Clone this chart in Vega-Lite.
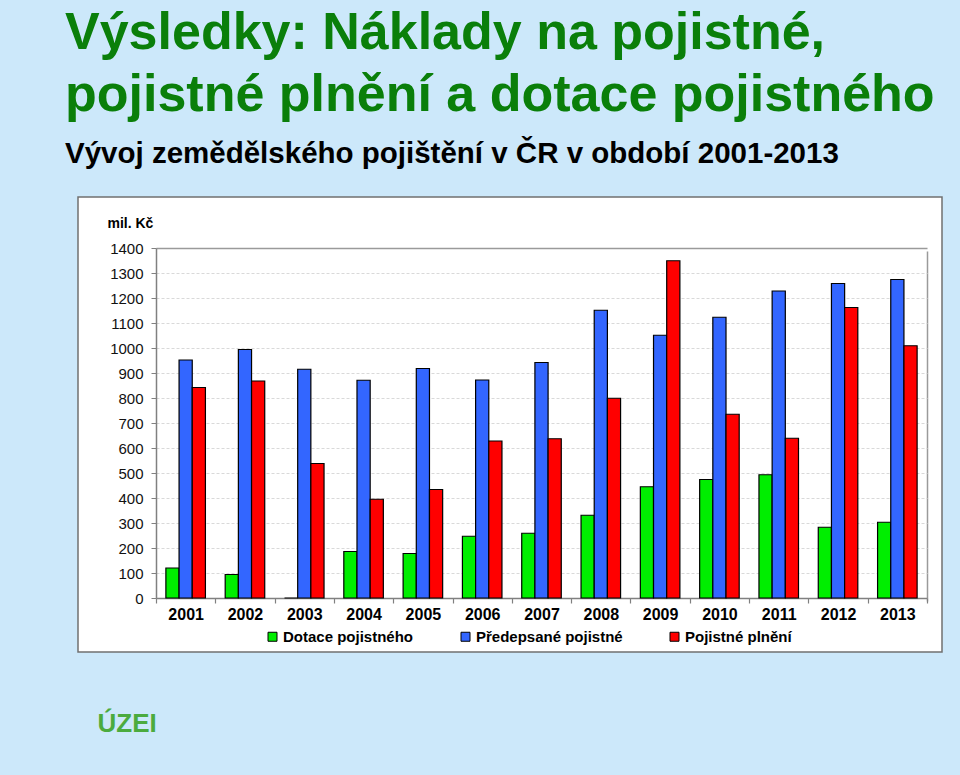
{
  "$schema": "https://vega.github.io/schema/vega-lite/v6.json",
  "width": 864,
  "height": 455,
  "autosize": {"type": "none"},
  "padding": {"left": 78, "top": 197, "right": 18, "bottom": 123},
  "background": "#cce8fa",
  "title": {
    "text": ["Výsledky: Náklady na pojistné,", "pojistné plnění a dotace pojistného"],
    "subtitle": "Vývoj zemědělského pojištění v ČR v období 2001-2013",
    "anchor": "start",
    "frame": "group",
    "dx": -13,
    "offset": 28,
    "font": "Liberation Sans",
    "fontSize": 52,
    "fontWeight": "bold",
    "color": "#0a7f0a",
    "lineHeight": 62,
    "subtitleFont": "Liberation Sans",
    "subtitleFontSize": 29.5,
    "subtitleFontWeight": "bold",
    "subtitleColor": "#000000",
    "subtitlePadding": 18
  },
  "data": {
    "values": [
      {"year": "2001", "series": "Dotace pojistného", "value": 120},
      {"year": "2001", "series": "Předepsané pojistné", "value": 952},
      {"year": "2001", "series": "Pojistné plnění", "value": 842},
      {"year": "2002", "series": "Dotace pojistného", "value": 94},
      {"year": "2002", "series": "Předepsané pojistné", "value": 994},
      {"year": "2002", "series": "Pojistné plnění", "value": 868},
      {"year": "2003", "series": "Dotace pojistného", "value": 0},
      {"year": "2003", "series": "Předepsané pojistné", "value": 915},
      {"year": "2003", "series": "Pojistné plnění", "value": 538},
      {"year": "2004", "series": "Dotace pojistného", "value": 186},
      {"year": "2004", "series": "Předepsané pojistné", "value": 871},
      {"year": "2004", "series": "Pojistné plnění", "value": 395},
      {"year": "2005", "series": "Dotace pojistného", "value": 178},
      {"year": "2005", "series": "Předepsané pojistné", "value": 918},
      {"year": "2005", "series": "Pojistné plnění", "value": 434},
      {"year": "2006", "series": "Dotace pojistného", "value": 247},
      {"year": "2006", "series": "Předepsané pojistné", "value": 872},
      {"year": "2006", "series": "Pojistné plnění", "value": 628},
      {"year": "2007", "series": "Dotace pojistného", "value": 259},
      {"year": "2007", "series": "Předepsané pojistné", "value": 942},
      {"year": "2007", "series": "Pojistné plnění", "value": 637},
      {"year": "2008", "series": "Dotace pojistného", "value": 331},
      {"year": "2008", "series": "Předepsané pojistné", "value": 1151},
      {"year": "2008", "series": "Pojistné plnění", "value": 799},
      {"year": "2009", "series": "Dotace pojistného", "value": 445},
      {"year": "2009", "series": "Předepsané pojistné", "value": 1051},
      {"year": "2009", "series": "Pojistné plnění", "value": 1349},
      {"year": "2010", "series": "Dotace pojistného", "value": 474},
      {"year": "2010", "series": "Předepsané pojistné", "value": 1123},
      {"year": "2010", "series": "Pojistné plnění", "value": 735},
      {"year": "2011", "series": "Dotace pojistného", "value": 493},
      {"year": "2011", "series": "Předepsané pojistné", "value": 1228},
      {"year": "2011", "series": "Pojistné plnění", "value": 639},
      {"year": "2012", "series": "Dotace pojistného", "value": 283},
      {"year": "2012", "series": "Předepsané pojistné", "value": 1258},
      {"year": "2012", "series": "Pojistné plnění", "value": 1162},
      {"year": "2013", "series": "Dotace pojistného", "value": 303},
      {"year": "2013", "series": "Předepsané pojistné", "value": 1274},
      {"year": "2013", "series": "Pojistné plnění", "value": 1009}
    ]
  },
  "mark": {"type": "bar", "stroke": "#000000", "strokeWidth": 1.2},
  "encoding": {
    "x": {
      "field": "year",
      "type": "ordinal",
      "scale": {"range": [78, 849], "paddingInner": 0, "paddingOuter": 0},
      "axis": {
        "title": "ÚZEI",
        "titleX": 19,
        "titleY": 133,
        "titleAlign": "left",
        "titleBaseline": "alphabetic",
        "titleFont": "Liberation Sans",
        "titleFontSize": 26,
        "titleFontWeight": "bold",
        "titleColor": "#4bab3e",
        "offset": -54,
        "labelAngle": 0,
        "labelFont": "Liberation Sans",
        "labelFontSize": 16,
        "labelFontWeight": "bold",
        "labelColor": "#000000",
        "labelPadding": 3,
        "tickBand": "extent",
        "tickSize": 5,
        "tickColor": "#808080",
        "tickWidth": 1.2,
        "domainColor": "#808080",
        "domainWidth": 1.5,
        "grid": true,
        "gridColor": "#9a9a9a",
        "gridWidth": 1.5,
        "gridOpacity": {"condition": {"test": "datum.value == 2013", "value": 1}, "value": 0}
      }
    },
    "xOffset": {
      "field": "series",
      "type": "nominal",
      "sort": ["Dotace pojistného", "Předepsané pojistné", "Pojistné plnění"],
      "scale": {"paddingOuter": 0.75, "paddingInner": 0}
    },
    "y": {
      "field": "value",
      "type": "quantitative",
      "scale": {"domain": [0, 1400], "nice": false, "range": [401, 51]},
      "axis": {
        "title": "mil. Kč",
        "titleAngle": 0,
        "titleX": -49,
        "titleY": 26,
        "titleAlign": "left",
        "titleBaseline": "middle",
        "titleFont": "Liberation Sans",
        "titleFontSize": 14,
        "titleFontWeight": "bold",
        "titleColor": "#000000",
        "offset": -78,
        "format": "d",
        "values": [0, 100, 200, 300, 400, 500, 600, 700, 800, 900, 1000, 1100, 1200, 1300, 1400],
        "labelFont": "Liberation Sans",
        "labelFontSize": 15,
        "labelColor": "#111111",
        "labelPadding": 8,
        "tickSize": 5,
        "tickColor": "#808080",
        "domainColor": "#808080",
        "domainWidth": 1.5,
        "grid": true,
        "gridColor": {"condition": {"test": "datum.value == 1400", "value": "#9a9a9a"}, "value": "#d9d9d9"},
        "gridDash": {"condition": {"test": "datum.value == 1400", "value": []}, "value": [3, 2]},
        "gridWidth": {"condition": {"test": "datum.value == 1400", "value": 1.5}, "value": 1}
      }
    },
    "color": {
      "field": "series",
      "type": "nominal",
      "sort": ["Dotace pojistného", "Předepsané pojistné", "Pojistné plnění"],
      "scale": {
        "domain": ["Dotace pojistného", "Předepsané pojistné", "Pojistné plnění"],
        "range": ["#00ee00", "#3366ff", "#ff0000"]
      },
      "legend": {
        "title": null,
        "orient": "none",
        "legendX": 187,
        "legendY": 432,
        "direction": "horizontal",
        "symbolType": "square",
        "symbolSize": 81,
        "symbolStrokeColor": "#000000",
        "symbolStrokeWidth": 1,
        "symbolOpacity": 1,
        "labelFont": "Liberation Sans",
        "labelFontSize": 15,
        "labelFontWeight": "bold",
        "labelColor": "#000000",
        "labelOffset": 3,
        "columnPadding": 44,
        "labelLimit": 300
      }
    }
  },
  "config": {
    "view": {"fill": "#ffffff", "stroke": "#707070", "strokeWidth": 1.5},
    "font": "Liberation Sans"
  }
}
